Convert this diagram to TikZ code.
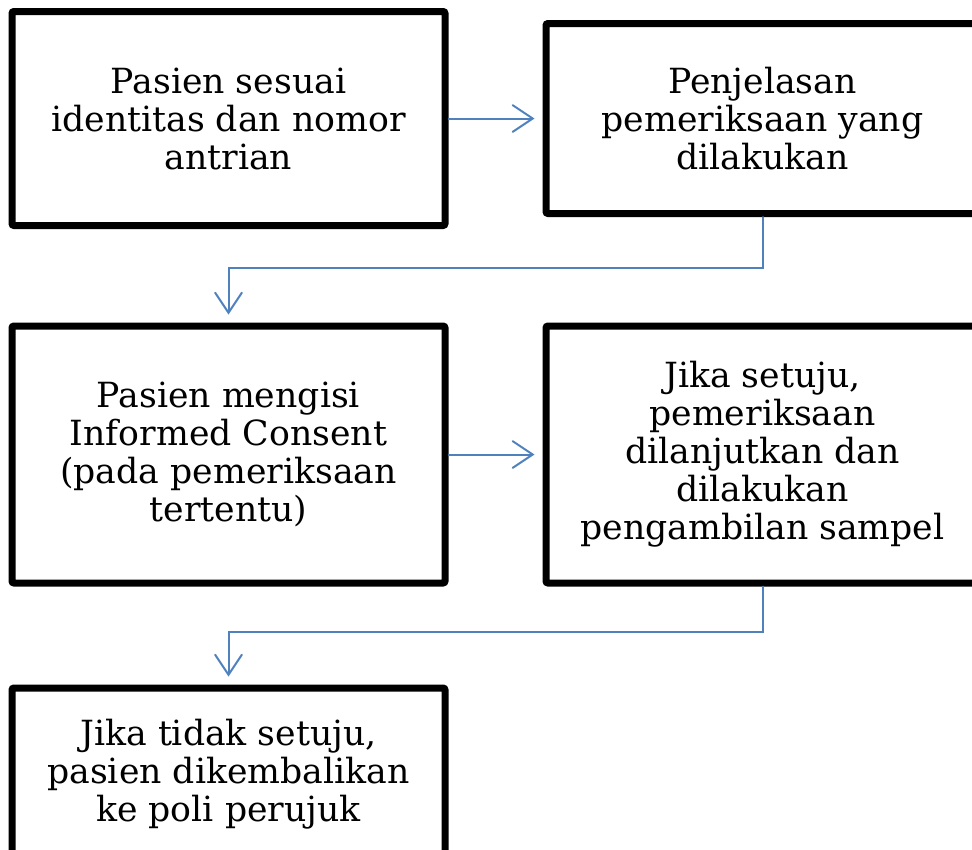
\documentclass[tikz,border=0pt]{standalone}
\usepackage{fontspec}
\setmainfont{DejaVu Serif}
\usetikzlibrary{arrows.meta,positioning}
\definecolor{flowblue}{RGB}{79,129,189}

\begin{document}
\begin{tikzpicture}[x=0.75pt,y=-0.75pt,
		box/.style={draw, line width=5.25pt, rounded corners=1.5pt, align=center,
			minimum width=324.75pt, inner sep=0pt,
			font=\fontsize{26}{28.5}\selectfont},
		flow/.style={draw=flowblue, line width=1.5pt, line cap=round,
			-{Straight Barb[length=15pt,width=20pt,line cap=round]}, shorten >=6pt}]

		\useasboundingbox (0,0) rectangle (972,850);

		% Top row
		\node[box, minimum height=160.5pt] (pasien) at (228.5,118.5)
			{Pasien sesuai\\identitas dan nomor\\antrian};
		\node[box, minimum height=142.5pt] (penjelasan) at (762.5,118.5)
			{Penjelasan\\pemeriksaan yang\\dilakukan};

		% Middle row
		\node[box, minimum height=192.75pt] (consent) at (228.5,454.5)
			{Pasien mengisi\\Informed Consent\\(pada pemeriksaan\\tertentu)};
		\node[box, minimum height=192.75pt] (setuju) at (762.5,454.5)
			{Jika setuju,\\pemeriksaan\\dilanjutkan dan\\dilakukan\\pengambilan sampel};

		% Bottom row
		\node[box, minimum height=129pt] (tidak) at (228.5,774)
			{Jika tidak setuju,\\pasien dikembalikan\\ke poli perujuk};

		% Turning points
		\coordinate (turnA) at (762.5,268);
		\coordinate (turnB) at (762.5,632);

		% Arrows
		\draw[flow] (pasien.east) -- (penjelasan.west);
		\draw[flow] (penjelasan.south) -- (turnA) -| (consent.north);
		\draw[flow] (consent.east) -- (setuju.west);
		\draw[flow] (setuju.south) -- (turnB) -| (tidak.north);

	\end{tikzpicture}
\end{document}
